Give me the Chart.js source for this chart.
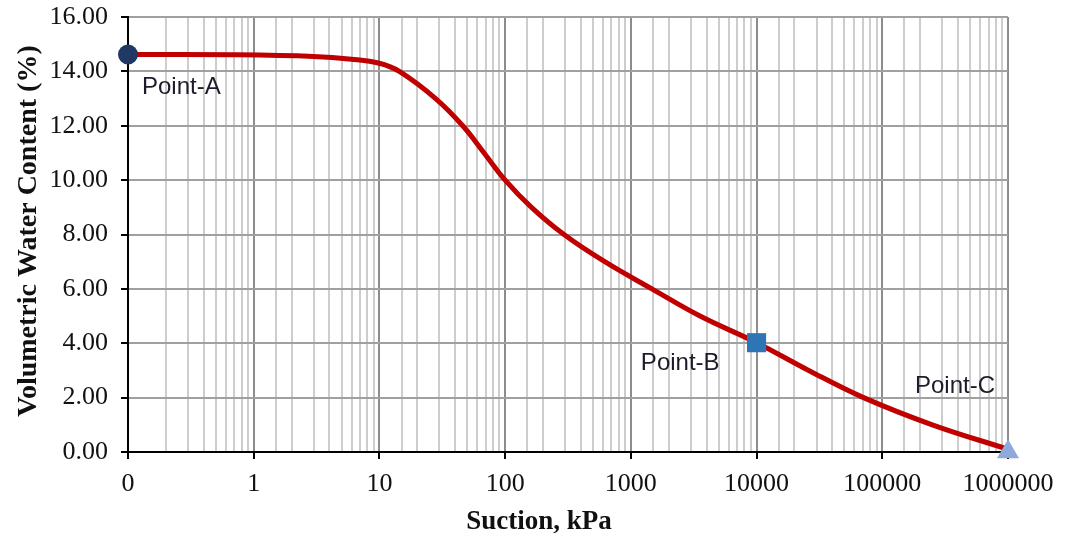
<!DOCTYPE html>
<html>
<head>
<meta charset="utf-8">
<script src="https://cdn.jsdelivr.net/npm/chart.js@4"></script>
<style>
  html, body { margin: 0; padding: 0; background: #ffffff; }
  #wrap { width: 1067px; height: 537px; }
</style>
</head>
<body>
<div id="wrap"><canvas id="swcc" width="1067" height="537"></canvas></div>
<script>
// Soil-water characteristic curve: suction (kPa) vs volumetric water content (%)
const suction = [0.1, 0.7, 3, 6, 10, 14.4, 28, 46, 68, 100, 162, 294, 620, 1470, 3550, 10000, 26000, 71000, 250000, 1000000];
const waterContent = [14.62, 14.61, 14.55, 14.45, 14.30, 14.0, 13.0, 12.0, 11.0, 10.0, 9.0, 8.0, 7.0, 6.0, 5.0, 4.02, 3.0, 2.0, 1.0, 0.1];

// Highlighted points on the curve
const pointNames = ['Point-A', 'Point-B', 'Point-C'];
const pointSuction = [0.1, 10000, 1000000];
const pointWater = [14.62, 4.02, 0];

// Axis labels
const suctionTickLabels = ['0', '1', '10', '100', '1000', '10000', '100000', '1000000'];
const waterTickDecimals = 2;
const xTitle = 'Suction, kPa';
const yTitle = 'Volumetric Water Content (%)';

const isDecade = v => Math.abs(Math.log10(v) - Math.round(Math.log10(v))) < 1e-9;

const markerStyles = [
  { pointStyle: 'circle', radius: 10, color: '#1f3864' },
  { pointStyle: 'rect', radius: 13.5, color: '#2e75b6' },
  { pointStyle: 'triangle', radius: 12.7, color: '#8eaadb' }
];

// Where each point's caption sits relative to its marker
const captionPlacement = [
  { dx: 14, dy: 33, align: 'left' },
  { dx: -37, dy: 21, align: 'right' },
  { dx: -13, dy: -66, align: 'right' }
];

const markerDatasets = pointNames.map((name, i) => ({
  label: name,
  data: [{ x: pointSuction[i], y: pointWater[i] }],
  showLine: false,
  pointStyle: markerStyles[i].pointStyle,
  pointRadius: markerStyles[i].radius,
  pointHoverRadius: markerStyles[i].radius,
  pointBackgroundColor: markerStyles[i].color,
  pointBorderColor: markerStyles[i].color,
  pointBorderWidth: 0,
  clip: false,
  order: 0
}));

const curveDataset = {
  label: 'SWCC',
  data: suction.map((s, i) => ({ x: s, y: waterContent[i] })),
  borderColor: '#c00000',
  borderWidth: 5,
  pointRadius: 0,
  tension: 0.4,
  fill: false,
  clip: false,
  order: 2
};

const captionPlugin = {
  id: 'pointCaptions',
  afterDatasetsDraw(chart) {
    const ctx = chart.ctx;
    const xs = chart.scales.x, ys = chart.scales.y;
    ctx.save();
    ctx.font = '24px "Liberation Sans", Arial, sans-serif';
    ctx.fillStyle = '#1c1c2c';
    ctx.textBaseline = 'middle';
    pointNames.forEach((name, i) => {
      const px = xs.getPixelForValue(pointSuction[i]);
      const py = ys.getPixelForValue(pointWater[i]);
      const p = captionPlacement[i];
      ctx.textAlign = p.align;
      ctx.fillText(name, px + p.dx, py + p.dy);
    });
    ctx.restore();
  }
};

const axisTitlePlugin = {
  id: 'axisTitles',
  afterDraw(chart) {
    const ctx = chart.ctx;
    ctx.save();
    ctx.fillStyle = '#111111';
    ctx.font = 'bold 27px "Liberation Serif", "Times New Roman", serif';
    ctx.textAlign = 'center';
    ctx.textBaseline = 'alphabetic';
    ctx.fillText(xTitle, 539, 529);
    ctx.translate(36, 231);
    ctx.rotate(-Math.PI / 2);
    ctx.font = 'bold 28px "Liberation Serif", "Times New Roman", serif';
    ctx.fillText(yTitle, 0, 0);
    ctx.restore();
  }
};

// Keep the plot frame where the layout padding puts it, ignoring label overhang
function noOverhang(scale) {
  scale.paddingTop = 0;
  scale.paddingBottom = 0;
  scale.paddingLeft = 0;
  scale.paddingRight = 0;
}

new Chart(document.getElementById('swcc'), {
  type: 'line',
  data: { datasets: [...markerDatasets, curveDataset] },
  options: {
    responsive: false,
    devicePixelRatio: 1,
    animation: false,
    layout: { padding: { top: 17, right: 59, left: 0, bottom: 0 } },
    plugins: {
      legend: { display: false },
      tooltip: { enabled: false }
    },
    scales: {
      x: {
        type: 'logarithmic',
        min: 0.1,
        max: 1000000,
        afterFit(scale) { scale.height = 85; noOverhang(scale); },
        border: { color: '#000000', width: 2 },
        grid: {
          color: ctx => (ctx.tick && isDecade(ctx.tick.value)) ? '#8c8c8c' : '#cdcdcd',
          lineWidth: 2,
          tickLength: 7,
          tickColor: ctx => (ctx.tick && isDecade(ctx.tick.value)) ? '#000000' : 'rgba(0,0,0,0)',
          tickWidth: 2
        },
        ticks: {
          autoSkip: false,
          maxRotation: 0,
          minRotation: 0,
          padding: 10,
          color: '#111111',
          font: { family: '"Liberation Serif", "Times New Roman", serif', size: 26 },
          callback: value => isDecade(value) ? suctionTickLabels[Math.round(Math.log10(value)) + 1] : ''
        }
      },
      y: {
        type: 'linear',
        min: 0,
        max: 16,
        afterFit(scale) { scale.width = 128; noOverhang(scale); },
        border: { color: '#000000', width: 2 },
        grid: {
          color: '#a0a0a0',
          lineWidth: 2,
          tickLength: 7,
          tickColor: '#000000',
          tickWidth: 2
        },
        ticks: {
          stepSize: 2,
          padding: 13,
          color: '#111111',
          font: { family: '"Liberation Serif", "Times New Roman", serif', size: 26 },
          callback: value => Number(value).toFixed(waterTickDecimals)
        }
      }
    }
  },
  plugins: [captionPlugin, axisTitlePlugin]
});
</script>
</body>
</html>
